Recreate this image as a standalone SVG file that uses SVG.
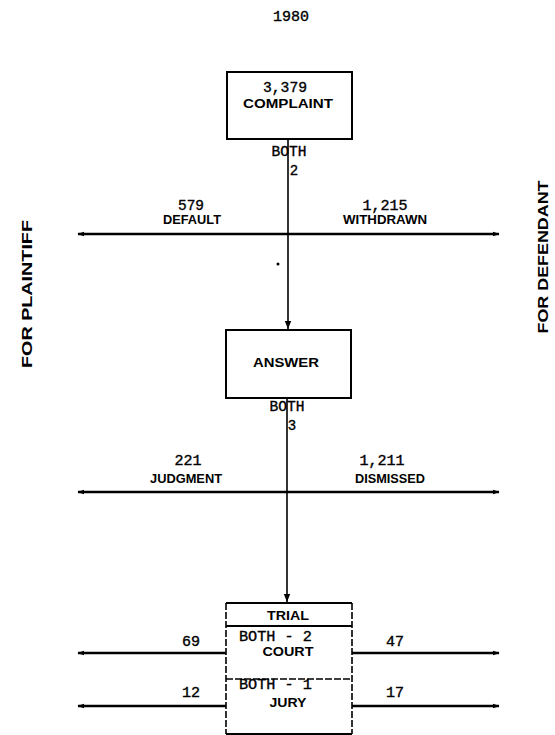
<svg xmlns="http://www.w3.org/2000/svg" width="555" height="735" viewBox="0 0 555 735">
<defs>
<marker id="ah" viewBox="0 0 10 10" refX="9" refY="5" markerWidth="7" markerHeight="7" orient="auto-start-reverse" markerUnits="userSpaceOnUse">
<path d="M0,1.5 L10,5 L0,8.5 Z" fill="#000"/>
</marker>
<marker id="ahv" viewBox="0 0 10 10" refX="10" refY="5" markerWidth="8" markerHeight="8" orient="auto" markerUnits="userSpaceOnUse">
<path d="M0,1 L10,5 L0,9 Z" fill="#000"/>
</marker>
<style>
.box{fill:#fff;stroke:#000;stroke-width:2}
.dash{fill:none;stroke:#000;stroke-width:1.6;stroke-dasharray:7 2}
.hl{stroke:#000;stroke-width:2.6;fill:none}
.vl{stroke:#000;stroke-width:1.6;fill:none}
.mono{font-family:"Liberation Mono","DejaVu Sans Mono",monospace;font-size:14px;fill:#000;stroke:#000;stroke-width:0.35}
.lab{font-family:"Liberation Sans",Arial,sans-serif;font-weight:bold;font-size:12px;fill:#000}
.side{font-family:"Liberation Sans",Arial,sans-serif;font-weight:bold;font-size:15px;fill:#000}
</style>
</defs>
<rect width="555" height="735" fill="#fff"/>
<text class="mono" x="291" y="21" text-anchor="middle" textLength="36" lengthAdjust="spacingAndGlyphs">1980</text>
<text class="side" transform="translate(32,294) rotate(-90)" text-anchor="middle" textLength="148" lengthAdjust="spacingAndGlyphs">FOR PLAINTIFF</text>
<text class="side" transform="translate(548,257) rotate(-90)" text-anchor="middle" textLength="153" lengthAdjust="spacingAndGlyphs">FOR DEFENDANT</text>
<g id="connectors">
<line class="vl" x1="288" y1="139" x2="288" y2="329" marker-end="url(#ahv)"/>
<line class="vl" x1="287" y1="398" x2="287" y2="602" marker-end="url(#ahv)"/>
<line class="hl" x1="78" y1="234" x2="499" y2="234" marker-start="url(#ah)" marker-end="url(#ah)"/>
<line class="hl" x1="78" y1="492" x2="499" y2="492" marker-start="url(#ah)" marker-end="url(#ah)"/>
<line class="hl" x1="78" y1="653" x2="226" y2="653" marker-start="url(#ah)"/>
<line class="hl" x1="352" y1="653" x2="499" y2="653" marker-end="url(#ah)"/>
<line class="hl" x1="78" y1="706" x2="226" y2="706" marker-start="url(#ah)"/>
<line class="hl" x1="352" y1="706" x2="499" y2="706" marker-end="url(#ah)"/>
<circle cx="278" cy="264" r="1.5" fill="#000"/>
<text class="mono" x="289" y="156" text-anchor="middle" textLength="35" lengthAdjust="spacingAndGlyphs">BOTH</text>
<text class="mono" x="294" y="175" text-anchor="middle">2</text>
<text class="mono" x="287" y="411" text-anchor="middle" textLength="35" lengthAdjust="spacingAndGlyphs">BOTH</text>
<text class="mono" x="292" y="430" text-anchor="middle">3</text>
<text class="mono" x="191" y="210" text-anchor="middle" textLength="26" lengthAdjust="spacingAndGlyphs">579</text>
<text class="lab" x="192" y="224" text-anchor="middle" textLength="58" lengthAdjust="spacingAndGlyphs">DEFAULT</text>
<text class="mono" x="385" y="210" text-anchor="middle" textLength="45" lengthAdjust="spacingAndGlyphs">1,215</text>
<text class="lab" x="385" y="224" text-anchor="middle" textLength="84" lengthAdjust="spacingAndGlyphs">WITHDRAWN</text>
<text class="mono" x="188" y="465" text-anchor="middle" textLength="27" lengthAdjust="spacingAndGlyphs">221</text>
<text class="lab" x="186" y="483" text-anchor="middle" textLength="72" lengthAdjust="spacingAndGlyphs">JUDGMENT</text>
<text class="mono" x="382" y="465" text-anchor="middle" textLength="45" lengthAdjust="spacingAndGlyphs">1,211</text>
<text class="lab" x="390" y="483" text-anchor="middle" textLength="70" lengthAdjust="spacingAndGlyphs">DISMISSED</text>
<text class="mono" x="191" y="646" text-anchor="middle" textLength="18" lengthAdjust="spacingAndGlyphs">69</text>
<text class="mono" x="395" y="646" text-anchor="middle" textLength="18" lengthAdjust="spacingAndGlyphs">47</text>
<text class="mono" x="191" y="697" text-anchor="middle" textLength="18" lengthAdjust="spacingAndGlyphs">12</text>
<text class="mono" x="395" y="697" text-anchor="middle" textLength="18" lengthAdjust="spacingAndGlyphs">17</text>
</g>
<g id="complaint">
<rect class="box" x="227" y="72" width="125" height="67"/>
<text class="mono" x="285" y="92" text-anchor="middle" textLength="44" lengthAdjust="spacingAndGlyphs">3,379</text>
<text class="lab" x="288" y="108" text-anchor="middle" textLength="90" lengthAdjust="spacingAndGlyphs">COMPLAINT</text>
</g>
<g id="answer">
<rect class="box" x="226" y="330" width="125" height="68"/>
<text class="lab" x="286" y="367" text-anchor="middle" textLength="66" lengthAdjust="spacingAndGlyphs">ANSWER</text>
</g>
<g id="trial">
<line stroke="#000" stroke-width="2" x1="226" y1="603" x2="352" y2="603"/>
<line stroke="#000" stroke-width="2" x1="226" y1="626" x2="352" y2="626"/>
<line class="dash" x1="226" y1="679" x2="352" y2="679"/>
<line stroke="#000" stroke-width="2" x1="226" y1="734" x2="352" y2="734"/>
<line class="dash" x1="226" y1="603" x2="226" y2="734"/>
<line class="dash" x1="352" y1="603" x2="352" y2="734"/>
<text class="lab" x="288" y="620" text-anchor="middle" textLength="42" lengthAdjust="spacingAndGlyphs">TRIAL</text>
<text class="mono" x="239" y="641" textLength="73" lengthAdjust="spacingAndGlyphs">BOTH - 2</text>
<text class="lab" x="288" y="656" text-anchor="middle" textLength="51" lengthAdjust="spacingAndGlyphs">COURT</text>
<text class="mono" x="239" y="689" textLength="73" lengthAdjust="spacingAndGlyphs">BOTH - 1</text>
<text class="lab" x="288" y="707" text-anchor="middle" textLength="37" lengthAdjust="spacingAndGlyphs">JURY</text>
</g>
</svg>
